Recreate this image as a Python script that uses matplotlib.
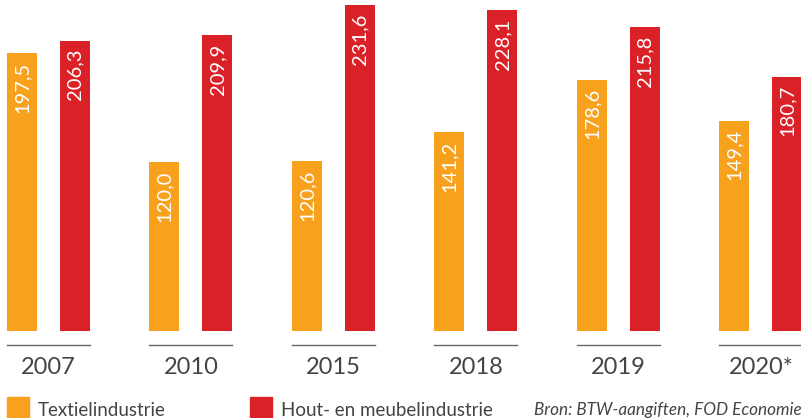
import numpy as np
import matplotlib.pyplot as plt
from matplotlib.patches import Rectangle

years = ['2007', '2010', '2015', '2018', '2019', '2020*']
textiel = [197.5, 120.0, 120.6, 141.2, 178.6, 149.4]
hout = [206.3, 209.9, 231.6, 228.1, 215.8, 180.7]
series_names = ['Textielindustrie', 'Hout- en meubelindustrie']
source = 'Bron: BTW-aangiften, FOD Economie'

orange = '#F8A11C'
red = '#DB2128'
grey = '#444444'

plt.rcParams['font.family'] = ['Lato', 'DejaVu Sans']

W, H = 801, 418
fig = plt.figure(figsize=(W / 100, H / 100), dpi=100)
base = 331  # pixel row of bar baseline
ax = fig.add_axes([0, 1 - base / H, 1, base / H])

x = np.arange(len(years))
bw = 0.21
off = 0.186
b1 = ax.bar(x - off, textiel, bw, color=orange)
b2 = ax.bar(x + off, hout, bw, color=red)

ax.set_xlim(-0.340, 5.281)
ax.set_ylim(0, 235.1)
ax.axis('off')

# values, rotated inside the top of each bar
for bars, vals in ((b1, textiel), (b2, hout)):
    for b, v in zip(bars, vals):
        ax.text(b.get_x() + b.get_width() / 2, v - 6,
                f'{v:.1f}'.replace('.', ','), rotation=90,
                ha='center', va='top', color='white', fontsize=14.5)

# short line + year under every group
tr = ax.get_xaxis_transform()
for i, yr in enumerate(years):
    ax.plot([i - 0.291, i + 0.291], [-14 / base, -14 / base], color='#666666',
            lw=1, transform=tr, clip_on=False)
    ax.text(i, -36 / base, yr, transform=tr, ha='center', va='center',
            color=grey, fontsize=17)

# legend
for px, col, name in ((7, orange, series_names[0]), (250, red, series_names[1])):
    fig.patches.append(Rectangle((px / W, 0), 22 / W, 21 / H, color=col,
                                 transform=fig.transFigure))
    fig.text((px + 31) / W, 8 / H, name, ha='left', va='center',
             color=grey, fontsize=13.5)

fig.text(534 / W, 8 / H, source, ha='left', va='center', color=grey,
         fontsize=12.3, style='italic')

fig.savefig('out.png', dpi=100)
